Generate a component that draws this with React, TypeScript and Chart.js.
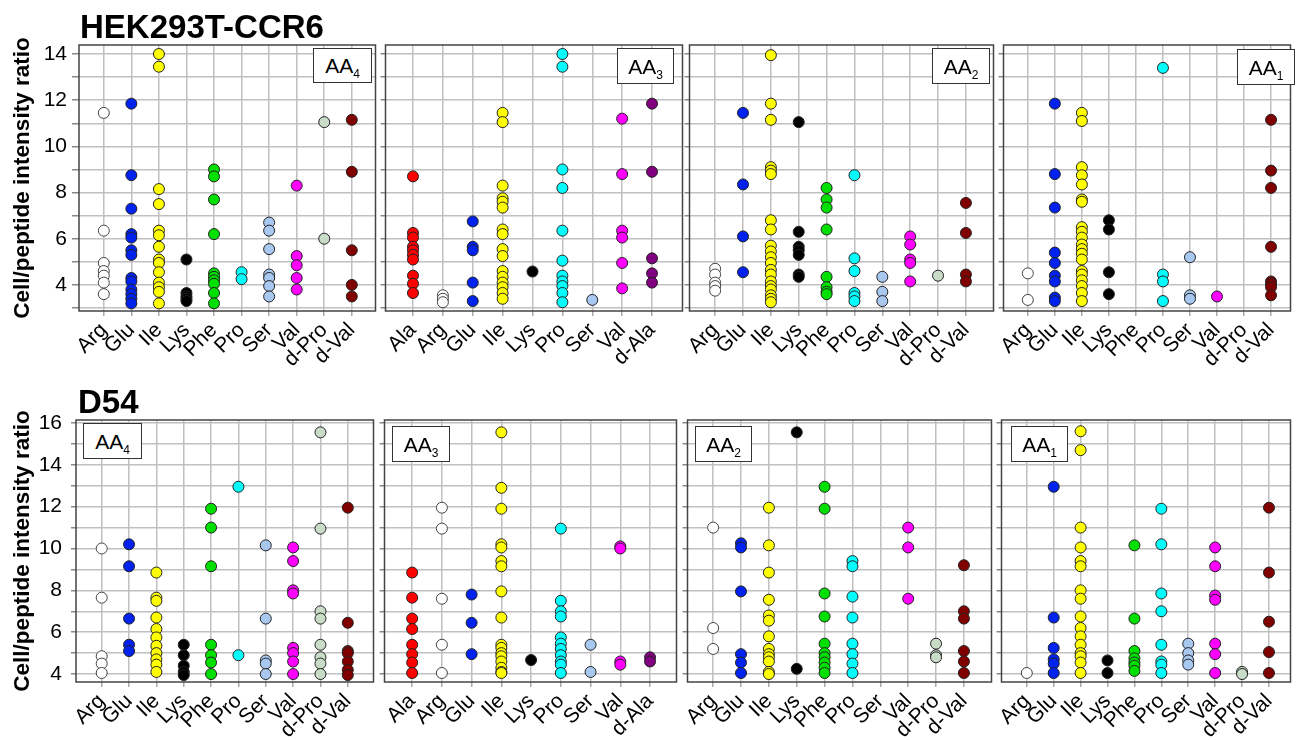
import React, { useEffect, useRef } from 'react';
import { Chart, registerables } from 'chart.js';
Chart.register(...registerables);

const FONT = "'Liberation Sans', Arial, sans-serif";

// Categories
const catsStd = ['Arg', 'Glu', 'Ile', 'Lys', 'Phe', 'Pro', 'Ser', 'Val', 'd-Pro', 'd-Val'];
const catsAA3 = ['Ala', 'Arg', 'Glu', 'Ile', 'Lys', 'Pro', 'Ser', 'Val', 'd-Ala'];

// Y ticks
const hekYTicks = [3, 4, 5, 6, 7, 8, 9, 10, 11, 12, 13, 14];
const d54YTicks = [4, 5, 6, 7, 8, 9, 10, 11, 12, 13, 14, 15, 16];

const yTitle = 'Cell/peptide intensity ratio';

const aaColors: Record<string, string> = {
  Ala: '#ff0000',
  Arg: '#ffffff',
  Glu: '#0022ee',
  Ile: '#ffff00',
  Lys: '#000000',
  Phe: '#00e000',
  Pro: '#00ffff',
  Ser: '#a8c8f0',
  Val: '#ff00ff',
  'd-Pro': '#c8dcc8',
  'd-Val': '#800000',
  'd-Ala': '#800080',
};

// HEK293T-CCR6 (values per category, order as catsStd / catsAA3)
const hekAA4 = [
  [11.45, 6.35, 4.95, 4.6, 4.4, 4.1, 3.6],
  [11.85, 8.75, 7.3, 6.2, 6.05, 5.5, 5.3, 4.3, 4.15, 3.8, 3.6, 3.4, 3.2],
  [14.0, 13.45, 8.15, 7.5, 6.35, 6.15, 5.65, 5.1, 4.95, 4.55, 4.1, 3.9, 3.7, 3.2],
  [5.1, 3.65, 3.5, 3.4, 3.3],
  [9.0, 8.7, 7.7, 6.2, 4.5, 4.35, 4.2, 4.05, 3.65, 3.2],
  [4.55, 4.25],
  [6.7, 6.35, 5.55, 4.45, 4.3, 3.95, 3.5],
  [8.3, 5.25, 4.85, 4.3, 3.8],
  [11.05, 6.0],
  [11.15, 8.9, 5.5, 4.0, 3.5],
];
const hekAA3 = [
  [8.7, 6.25, 6.05, 5.65, 5.5, 5.3, 5.1, 4.4, 4.05, 3.65],
  [3.55, 3.4, 3.25],
  [6.75, 5.65, 5.5, 4.1, 3.3],
  [11.45, 11.05, 8.3, 7.75, 7.6, 7.35, 6.4, 6.2, 5.55, 5.25, 4.6, 4.35, 4.1, 3.9, 3.65, 3.4],
  [4.58],
  [14.0, 13.45, 9.0, 8.2, 6.35, 5.05, 4.4, 4.15, 3.95, 3.65, 3.25],
  [3.35],
  [11.2, 8.8, 6.35, 6.05, 4.95, 3.85],
  [11.85, 8.9, 5.15, 4.5, 4.1],
];
const hekAA2 = [
  [4.7, 4.45, 4.1, 3.95, 3.75],
  [11.45, 8.35, 6.1, 4.55],
  [13.95, 11.85, 11.15, 9.1, 8.95, 8.8, 6.8, 6.4, 5.7, 5.45, 5.2, 4.95, 4.65, 4.45, 4.15, 3.95, 3.8, 3.55, 3.4, 3.25],
  [11.05, 6.3, 5.65, 5.5, 5.3, 4.45, 4.35],
  [8.2, 7.7, 7.35, 6.4, 4.35, 3.9, 3.7, 3.6],
  [8.75, 5.15, 4.6, 3.65, 3.5, 3.3],
  [4.35, 3.7, 3.3],
  [6.1, 5.75, 5.1, 4.95, 4.15],
  [4.4],
  [7.55, 6.25, 4.45, 4.15],
];
const hekAA1 = [
  [4.5, 3.35],
  [11.85, 8.8, 7.35, 5.4, 4.95, 4.4, 4.15, 3.45, 3.3],
  [11.45, 11.1, 9.1, 8.75, 8.35, 7.7, 7.6, 6.5, 6.3, 6.05, 5.75, 5.55, 5.35, 5.1, 4.6, 4.45, 4.2, 3.95, 3.65, 3.3],
  [6.8, 6.4, 4.55, 3.6],
  [],
  [13.4, 4.45, 4.15, 3.3],
  [5.2, 3.55, 3.4],
  [3.5],
  [],
  [11.15, 8.95, 8.2, 5.65, 4.15, 4.05, 3.9, 3.55],
];

// D54
const d54AA4 = [
  [10.0, 7.65, 4.85, 4.5, 4.05],
  [10.2, 9.15, 6.65, 5.4, 5.1],
  [8.85, 7.65, 7.5, 6.7, 6.15, 5.75, 5.35, 5.0, 4.7, 4.45, 4.1],
  [5.4, 4.9, 4.4, 4.1, 3.95],
  [11.9, 11.0, 9.15, 5.4, 4.9, 4.55, 4.0],
  [12.95, 4.9],
  [10.15, 6.65, 4.65, 4.5, 4.0],
  [10.05, 9.4, 8.0, 7.85, 5.25, 5.0, 4.6, 4.0],
  [15.55, 10.95, 7.0, 6.65, 5.4, 4.8, 4.5, 4.0],
  [11.95, 6.45, 5.1, 5.0, 4.6, 4.2, 3.95],
];
const d54AA3 = [
  [8.85, 7.65, 6.65, 6.15, 5.4, 4.95, 4.55, 4.05],
  [11.95, 10.95, 7.6, 5.4, 4.05],
  [7.8, 6.45, 4.95],
  [15.55, 12.9, 11.9, 10.2, 10.05, 9.4, 9.15, 7.95, 6.7, 5.4, 5.25, 5.0, 4.85, 4.6, 4.3, 4.1, 4.05],
  [4.67],
  [10.95, 7.5, 7.0, 6.75, 5.75, 5.45, 5.2, 4.9, 4.6, 4.45, 4.05],
  [5.4, 4.1],
  [10.1, 10.0, 4.6, 4.45],
  [4.8, 4.6],
];
const d54AA2 = [
  [11.0, 6.2, 5.2],
  [10.25, 10.05, 7.95, 4.95, 4.55, 4.05],
  [11.95, 10.15, 8.85, 7.55, 6.8, 6.55, 5.8, 5.2, 4.95, 4.8, 4.6, 4.1, 4.0],
  [15.55, 4.25],
  [12.95, 11.9, 7.85, 6.75, 5.45, 5.0, 4.8, 4.55, 4.3, 4.05],
  [9.4, 9.15, 7.7, 6.7, 5.45, 4.95, 4.5, 4.05],
  [],
  [11.0, 10.05, 7.6],
  [5.45, 4.9, 4.8],
  [9.2, 7.0, 6.65, 5.1, 4.6, 4.05],
];
const d54AA1 = [
  [4.05],
  [12.95, 6.7, 5.25, 4.7, 4.5, 4.05],
  [15.6, 14.7, 11.0, 10.05, 9.4, 9.15, 8.0, 7.6, 6.75, 6.2, 5.8, 5.4, 5.0, 4.85, 4.55, 4.05],
  [4.65, 4.05],
  [10.15, 6.65, 5.1, 4.75, 4.55, 4.4, 4.15],
  [11.9, 10.2, 7.85, 7.0, 5.4, 4.6, 4.45, 4.05],
  [5.45, 5.0, 4.65, 4.45],
  [10.05, 9.15, 7.75, 7.55, 5.45, 4.95, 4.05],
  [4.1, 4.0],
  [11.95, 8.85, 6.5, 5.05, 4.05],
];

const PAD_TOP = 12;
const PAD_RIGHT = 3;
const X_AXIS_H = 58;

type Box = { x: number; y: number; w: number; h: number };
type PanelCfg = {
  cats: string[];
  data: number[][];
  sub: string;
  left: number;
  right: number;
  top: number;
  bottom: number;
  yAxisW: number;
  xmin: number;
  xmax: number;
  yTicks: number[];
  ymin: number;
  ymax: number;
  showY: boolean;
  yTickLen: number;
  yTickPad: number;
  box: Box;
};

const hekRow = { top: 45, bottom: 311, yTicks: hekYTicks, ymin: 2.87, ymax: 14.39 };
const d54Row = { top: 420, bottom: 682, yTicks: d54YTicks, ymin: 3.62, ymax: 16.14 };

const panels: PanelCfg[] = [
  { ...hekRow, cats: catsStd, data: hekAA4, sub: '4', left: 79, right: 379, yAxisW: 79, xmin: -0.9, xmax: 9.86, showY: true, yTickLen: 7, yTickPad: 5, box: { x: 313, y: 48, w: 59, h: 35 } },
  { ...hekRow, cats: catsAA3, data: hekAA3, sub: '3', left: 384, right: 686, yAxisW: 5, xmin: -0.92, xmax: 9.02, showY: false, yTickLen: 5, yTickPad: 0, box: { x: 617, y: 48, w: 57, h: 36 } },
  { ...hekRow, cats: catsStd, data: hekAA2, sub: '2', left: 688, right: 997, yAxisW: 5, xmin: -0.92, xmax: 9.99, showY: false, yTickLen: 5, yTickPad: 0, box: { x: 932, y: 48, w: 58, h: 36 } },
  { ...hekRow, cats: catsStd, data: hekAA1, sub: '1', left: 1002, right: 1294, yAxisW: 5, xmin: -0.9, xmax: 9.72, showY: false, yTickLen: 5, yTickPad: 0, box: { x: 1237, y: 49, w: 58, h: 36 } },
  { ...d54Row, cats: catsStd, data: d54AA4, sub: '4', left: 76, right: 377, yAxisW: 76, xmin: -0.94, xmax: 9.94, showY: true, yTickLen: 5, yTickPad: 9, box: { x: 83, y: 423, w: 59, h: 36 } },
  { ...d54Row, cats: catsAA3, data: d54AA3, sub: '3', left: 383, right: 680, yAxisW: 5, xmin: -0.93, xmax: 8.89, showY: false, yTickLen: 5, yTickPad: 0, box: { x: 392, y: 426, w: 58, h: 36 } },
  { ...d54Row, cats: catsStd, data: d54AA2, sub: '2', left: 686, right: 995, yAxisW: 5, xmin: -0.92, xmax: 9.99, showY: false, yTickLen: 5, yTickPad: 0, box: { x: 695, y: 426, w: 57, h: 36 } },
  { ...d54Row, cats: catsStd, data: d54AA1, sub: '1', left: 1000, right: 1294, yAxisW: 5, xmin: -0.94, xmax: 9.8, showY: false, yTickLen: 5, yTickPad: 0, box: { x: 1011, y: 426, w: 57, h: 36 } },
];

const framePlugin = {
  id: 'frame',
  beforeDatasetsDraw(chart: any) {
    const { ctx, chartArea: a } = chart;
    ctx.save();
    ctx.strokeStyle = '#444';
    ctx.lineWidth = 1.5;
    ctx.strokeRect(a.left, a.top, a.right - a.left, a.bottom - a.top);
    ctx.restore();
  },
};

function Panel({ p }: { p: PanelCfg }) {
  const ref = useRef<HTMLCanvasElement>(null);
  const cw = p.yAxisW + (p.right - p.left) + PAD_RIGHT;
  const ch = PAD_TOP + (p.bottom - p.top) + X_AXIS_H;
  useEffect(() => {
    const datasets = p.cats.map((c, i) => ({
      label: c,
      data: p.data[i].map((v) => ({ x: i, y: v })),
      backgroundColor: aaColors[c],
      borderColor: c === 'Arg' ? '#444' : '#222',
      borderWidth: 1,
      pointRadius: 5.5,
      pointHoverRadius: 5.5,
    }));
    const chart = new Chart(ref.current as HTMLCanvasElement, {
      type: 'scatter',
      data: { datasets },
      options: {
        animation: false,
        responsive: false,
        maintainAspectRatio: false,
        layout: { padding: { top: PAD_TOP, right: PAD_RIGHT, left: 0, bottom: 0 } },
        plugins: { legend: { display: false }, tooltip: { enabled: false } },
        scales: {
          x: {
            type: 'linear',
            min: p.xmin,
            max: p.xmax,
            afterBuildTicks: (s: any) => {
              s.ticks = p.cats.map((_, i) => ({ value: i }));
            },
            afterFit: (s: any) => {
              s.height = X_AXIS_H;
              s.paddingLeft = 0;
              s.paddingRight = 0;
            },
            grid: { color: '#c0c0c0', lineWidth: 1.5, tickLength: 5, tickColor: '#aaa' },
            border: { display: false },
            ticks: {
              autoSkip: false,
              minRotation: 45,
              maxRotation: 45,
              padding: 2,
              color: '#000',
              font: { family: FONT, size: 21 },
              callback: (v: any) => p.cats[Math.round(Number(v))] ?? '',
            },
          },
          y: {
            type: 'linear',
            min: p.ymin,
            max: p.ymax,
            afterBuildTicks: (s: any) => {
              s.ticks = p.yTicks.map((v) => ({ value: v }));
            },
            afterFit: (s: any) => {
              s.width = p.yAxisW;
              s.paddingTop = 0;
              s.paddingBottom = 0;
            },
            grid: { color: '#c0c0c0', lineWidth: 1.5, tickLength: p.yTickLen, tickColor: '#888' },
            border: { display: false },
            ticks: {
              display: p.showY,
              autoSkip: false,
              padding: p.yTickPad,
              color: '#000',
              font: { family: FONT, size: 21 },
              callback: (v: any) => (Number(v) % 2 === 0 ? String(v) : ''),
            },
            title: {
              display: p.showY,
              text: yTitle,
              color: '#000',
              font: { family: FONT, size: 22.5, weight: 'bold' },
              padding: { top: 9, bottom: 0 },
            },
          },
        },
      } as any,
      plugins: [framePlugin],
    });
    return () => chart.destroy();
  }, []);
  return (
    <canvas
      ref={ref}
      width={cw}
      height={ch}
      style={{ position: 'absolute', left: p.left - p.yAxisW, top: p.top - PAD_TOP, width: cw, height: ch }}
    />
  );
}

function AABox({ p }: { p: PanelCfg }) {
  const b = p.box;
  return (
    <div
      style={{
        position: 'absolute',
        left: b.x,
        top: b.y,
        width: b.w,
        height: b.h,
        boxSizing: 'border-box',
        border: '1.5px solid #333',
        background: '#fff',
        display: 'flex',
        alignItems: 'center',
        justifyContent: 'center',
        fontFamily: FONT,
        fontSize: 21,
        color: '#000',
        lineHeight: 1,
      }}
    >
      <span>
        AA<span style={{ fontSize: 12, position: 'relative', top: 5 }}>{p.sub}</span>
      </span>
    </div>
  );
}

export default function App() {
  return (
    <div style={{ position: 'absolute', left: 0, top: 0, width: 1297, height: 740, background: '#fff', overflow: 'hidden' }}>
      {panels.map((p, i) => (
        <Panel key={i} p={p} />
      ))}
      {panels.map((p, i) => (
        <AABox key={'b' + i} p={p} />
      ))}
      <div style={{ position: 'absolute', left: 80, top: 11, fontFamily: FONT, fontWeight: 'bold', fontSize: 33, lineHeight: '32px', color: '#000' }}>
        HEK293T-CCR6
      </div>
      <div style={{ position: 'absolute', left: 78, top: 386, fontFamily: FONT, fontWeight: 'bold', fontSize: 33, lineHeight: '32px', color: '#000' }}>
        D54
      </div>
    </div>
  );
}
